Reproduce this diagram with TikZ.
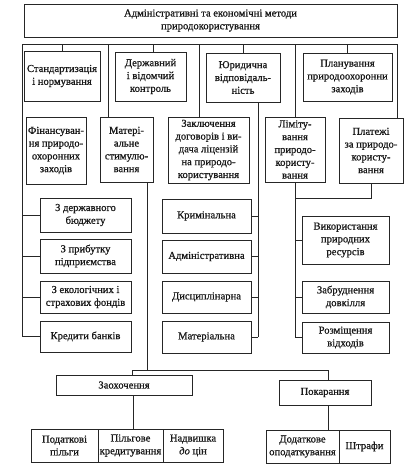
\documentclass[tikz,border=0pt]{standalone}
\usepackage{fontspec}
\setmainfont{Liberation Serif}[FakeBold=0.8]
\tikzset{
  box/.style={draw=black!85, line width=0.7pt, rectangle, align=center, inner sep=1pt,
    font=\fontsize{10.6}{12.8}\selectfont, text=black!90},
  ln/.style={draw=black!85, line width=0.7pt}
}
\newcommand\mybox[6]{\node[box, minimum width={(#4-#2)*1pt}, minimum height={(#5-#3)*1pt}] (#1) at ({(#2+#4)/2},{(#3+#5)/2}) {#6};}
\begin{document}
\begin{tikzpicture}[x=1pt,y=-1pt]
\useasboundingbox[fill=white] (0,0) rectangle (414,469);
% top
\mybox{top}{24}{4}{397}{37}{Адміністративні та економічні методи\\природокористування}
% row 2
\mybox{std}{24}{51}{100}{101}{Стандартизація\\і нормування}
\mybox{ctrl}{115}{52}{186}{101}{Державний\\і відомчий\\контроль}
\mybox{jur}{206}{53}{280}{102}{Юридична\\відповідаль-\\ність}
\mybox{plan}{303}{53}{392}{101}{Планування\\природоохоронни\\заходів}
% row 3
\mybox{fin}{26}{117}{86}{184}{Фінансуван-\\ня природо-\\охоронних\\заходів}
\mybox{mat}{100}{117}{153}{182}{Матері-\\альне\\стимулю-\\вання}
\mybox{lic}{168}{117}{249}{183}{Заключення\\договорів і ви-\\дача ліцензій\\на природо-\\користування}
\mybox{lim}{265}{117}{325}{182}{Ліміту-\\вання\\природо-\\користу-\\вання}
\mybox{pay}{339}{118}{403}{183}{Платежі\\за природо-\\користу-\\вання}
% left column
\mybox{b1}{40}{198}{131}{232}{З державного\\бюджету}
\mybox{b2}{40}{239}{131}{273}{З прибутку\\підприємства}
\mybox{b3}{40}{281}{131}{313}{З екологічних і\\страхових фондів}
\mybox{b4}{40}{321}{131}{352}{Кредити банків}
% middle column
\mybox{m1}{162}{199}{251}{233}{Кримінальна}
\mybox{m2}{162}{240}{251}{273}{Адміністративна}
\mybox{m3}{162}{281}{251}{313}{Дисциплінарна}
\mybox{m4}{162}{321}{251}{353}{Матеріальна}
% right column
\mybox{r1}{302}{216}{389}{264}{Використання\\природних\\ресурсів}
\mybox{r2}{302}{281}{389}{313}{Забруднення\\довкілля}
\mybox{r3}{302}{322}{389}{353}{Розміщення\\відходів}
% bottom
\mybox{enc}{56}{375}{192}{395}{Заохочення}
\mybox{pun}{279}{380}{371}{405}{Покарання}
\mybox{t1}{31}{429}{98}{462}{Податкові\\пільги}
\mybox{t2}{98}{429}{163}{462}{Пільгове\\кредитування}
\mybox{t3}{163}{429}{223}{462}{Надвишка\\\textit{до} цін}
\mybox{p1}{266}{430}{339}{463}{Додаткове\\оподаткування}
\mybox{p2}{339}{430}{390}{463}{Штрафи}
% coordinates
\coordinate (fl) at (22,44);
\coordinate (fr) at (397,44);
\coordinate (mv) at (108,44);
\coordinate (lv) at (199,44);
\coordinate (jv) at (258,0);
\coordinate (mv2) at (147,0);
\coordinate (hL) at (132,370);
\coordinate (hR) at (328,370);
\coordinate (ev) at (133,0);
\coordinate (jn) at (295,198);
% frame
\draw[ln] (fl |- b4.west) -- (fl) -- (fr) -- (fr |- pay.north);
\draw[ln] (std.north |- fl) -- (std.north);
\draw[ln] (153,44) coordinate (cs) -- (cs |- ctrl.north);
\draw[ln] (jur.north |- fl) -- (jur.north);
\draw[ln] (plan.north |- fl) -- (plan.north);
\draw[ln] (mv) -- (mv |- mat.north);
\draw[ln] (lv) -- (lv |- lic.north);
\draw[ln] (lim.north |- fl) -- (lim.north);
% left ticks
\foreach \b in {b1,b2,b3,b4} \draw[ln] (fl |- \b.west) -- (\b.west);
% juridical
\draw[ln] (jv |- jur.south) -- (jv |- m4.east);
\foreach \m in {m1,m2,m3,m4} \draw[ln] (jv |- \m.east) -- (\m.east);
% limits & payments
\draw[ln] (pay.south) -- (pay.south |- jn) -- (jn);
\draw[ln] (lim.south) -- (lim.south |- r3.west);
\foreach \r in {r1,r2,r3} \draw[ln] (lim.south |- \r.west) -- (\r.west);
% material stimulation
\draw[ln] (mv2 |- mat.south) -- (mv2 |- hL);
\draw[ln] (hL |- enc.north) -- (hL) -- (hR) -- (hR |- pun.north);
\draw[ln] (ev |- enc.south) -- (ev |- t2.north);
\draw[ln] (hR |- pun.south) -- (hR |- p1.north);
\end{tikzpicture}
\end{document}
